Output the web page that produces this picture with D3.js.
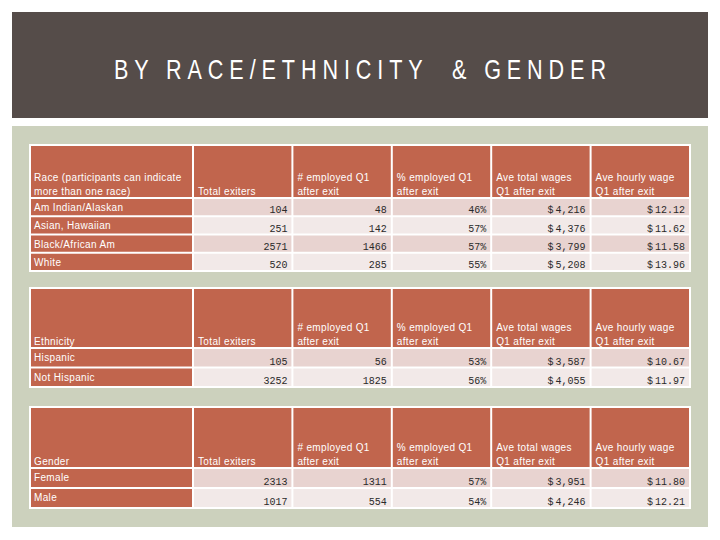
<!DOCTYPE html>
<html><head><meta charset="utf-8">
<script src="https://cdn.jsdelivr.net/npm/d3@7"></script>
<style>html,body{margin:0;padding:0;background:#fff;}svg{display:block;}</style>
</head><body>
<script>
const title = "BY RACE/ETHNICITY  & GENDER";
const headers = [["Total exiters"], ["# employed Q1", "after exit"], ["% employed Q1", "after exit"], ["Ave total wages", "Q1 after exit"], ["Ave hourly wage", "Q1 after exit"]];
const columns = ["total", "employed", "pct", "wages", "hourly"];

const raceTitle = ["Race (participants can indicate", "more than one race)"];
const raceLabels = ["Am Indian/Alaskan", "Asian, Hawaiian", "Black/African Am", "White"];
const raceTotal = ["104", "251", "2571", "520"];
const raceEmployed = ["48", "142", "1466", "285"];
const racePct = ["46%", "57%", "57%", "55%"];
const raceWages = ["$4,216", "$4,376", "$3,799", "$5,208"];
const raceHourly = ["$12.12", "$11.62", "$11.58", "$13.96"];

const ethTitle = ["Ethnicity"];
const ethLabels = ["Hispanic", "Not Hispanic"];
const ethTotal = ["105", "3252"];
const ethEmployed = ["56", "1825"];
const ethPct = ["53%", "56%"];
const ethWages = ["$3,587", "$4,055"];
const ethHourly = ["$10.67", "$11.97"];

const genTitle = ["Gender"];
const genLabels = ["Female", "Male"];
const genTotal = ["2313", "1017"];
const genEmployed = ["1311", "554"];
const genPct = ["57%", "54%"];
const genWages = ["$3,951", "$4,246"];
const genHourly = ["$11.80", "$12.21"];

const W = 720, H = 540;
const svg = d3.select("body").append("svg").attr("width", W).attr("height", H);

svg.append("rect").attr("x", 12).attr("y", 12).attr("width", 696).attr("height", 106).attr("fill", "#554c49");
const sx = 0.8;
svg.append("text").attr("transform", `translate(114,79) scale(${sx},1)`).text(title)
  .attr("fill", "#ffffff").attr("font-family", "'Liberation Sans','Arial',sans-serif")
  .attr("font-size", 27).attr("textLength", 492 / sx).attr("lengthAdjust", "spacing").style("white-space", "pre");

svg.append("rect").attr("x", 12).attr("y", 126).attr("width", 696).attr("height", 401).attr("fill", "#ccd1bd");

const x = d3.scaleBand().domain(columns).range([193, 690]);
const labelX0 = 30;

const tables = [
  {title: raceTitle, labels: raceLabels, vals: [raceTotal, raceEmployed, racePct, raceWages, raceHourly], top: 145, headBottom: 198, bottom: 271},
  {title: ethTitle, labels: ethLabels, vals: [ethTotal, ethEmployed, ethPct, ethWages, ethHourly], top: 288, headBottom: 348, bottom: 387},
  {title: genTitle, labels: genLabels, vals: [genTotal, genEmployed, genPct, genWages, genHourly], top: 407, headBottom: 468, bottom: 508}
];

const HEAD = "#c1654d", ROW1 = "#e8d3d0", ROW2 = "#f2e9e8";
const headFont = "'Liberation Sans','Arial',sans-serif";
const monoFont = "'Liberation Mono','DejaVu Sans Mono',monospace";

tables.forEach(t => {
  const g = svg.append("g");
  g.append("rect").attr("x", labelX0 - 1).attr("y", t.top - 1).attr("width", 690 - labelX0 + 2).attr("height", t.bottom - t.top + 2).attr("fill", "#fff");
  const y = d3.scaleBand().domain(t.labels).range([t.headBottom, t.bottom]);
  g.append("rect").attr("x", labelX0 + 1).attr("y", t.top + 1).attr("width", 193 - labelX0 - 2).attr("height", t.headBottom - t.top - 2).attr("fill", HEAD);
  g.selectAll("rect.h").data(columns).join("rect").attr("class", "h")
    .attr("x", d => x(d) + 1).attr("y", t.top + 1).attr("width", x.bandwidth() - 2).attr("height", t.headBottom - t.top - 2).attr("fill", HEAD);
  const lineH = 14.5;
  const hb = t.headBottom - 3;
  t.title.forEach((s, i) => {
    g.append("text").attr("x", labelX0 + 4).attr("y", hb - (t.title.length - 1 - i) * lineH).text(s)
      .attr("fill", "#fff").attr("font-family", headFont).attr("font-size", 10).attr("letter-spacing", 0.35);
  });
  columns.forEach((c, ci) => {
    const lines = headers[ci];
    lines.forEach((s, i) => {
      g.append("text").attr("x", x(c) + 5).attr("y", hb - (lines.length - 1 - i) * lineH).text(s)
        .attr("fill", "#fff").attr("font-family", headFont).attr("font-size", 10).attr("letter-spacing", 0.35);
    });
  });
  t.labels.forEach((lab, ri) => {
    const y0 = y(lab), h = y.bandwidth();
    g.append("rect").attr("x", labelX0 + 1).attr("y", y0 + 1).attr("width", 193 - labelX0 - 2).attr("height", h - 2).attr("fill", HEAD);
    g.append("text").attr("x", labelX0 + 4).attr("y", y0 + 13).text(lab)
      .attr("fill", "#fff").attr("font-family", headFont).attr("font-size", 10).attr("letter-spacing", 0.35);
    columns.forEach((c, ci) => {
      g.append("rect").attr("x", x(c) + 1).attr("y", y0 + 1).attr("width", x.bandwidth() - 2).attr("height", h - 2).attr("fill", ri % 2 === 0 ? ROW1 : ROW2);
      const v = t.vals[ci][ri];
      const tx = g.append("text").attr("x", x(c) + x.bandwidth() - 5).attr("y", y0 + h - 3).attr("text-anchor", "end")
        .attr("fill", "#2a2a2a").attr("font-family", monoFont).attr("font-size", 10);
      if (v.startsWith("$")) {
        tx.append("tspan").text("$");
        tx.append("tspan").attr("dx", 2).text(v.slice(1));
      } else {
        tx.text(v);
      }
    });
  });
});
</script>
</body></html>
